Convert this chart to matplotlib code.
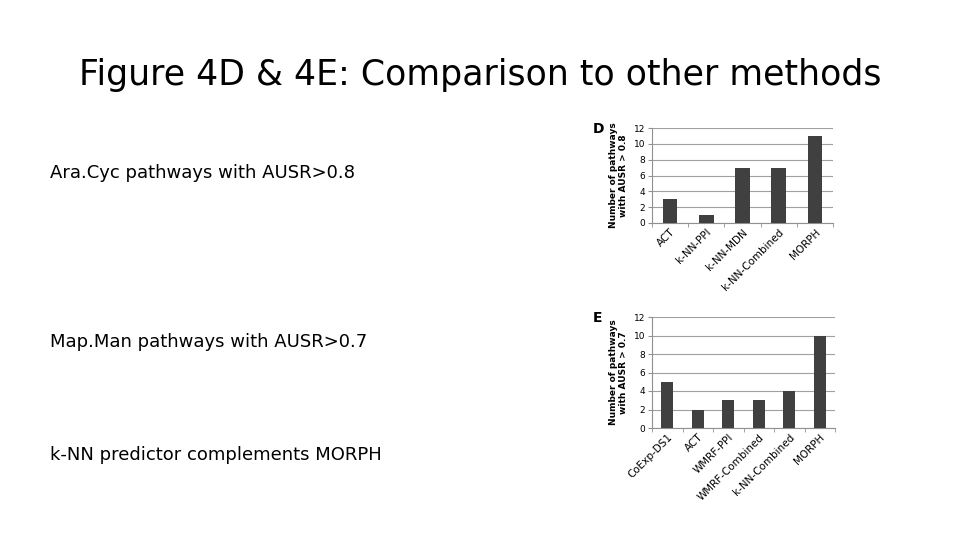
import numpy as np
import matplotlib.pyplot as plt

# panel D: AraCyc
cats_d = ['ACT', 'k-NN-PPI', 'k-NN-MDN', 'k-NN-Combined', 'MORPH']
vals_d = [3, 1, 7, 7, 11]
# panel E: MapMan
cats_e = ['CoExp-DS1', 'ACT', 'WMRF-PPI', 'WMRF-Combined', 'k-NN-Combined', 'MORPH']
vals_e = [5, 2, 3, 3, 4, 10]

bullets = ['Ara.Cyc pathways with AUSR>0.8',
           'Map.Man pathways with AUSR>0.7',
           'k-NN predictor complements MORPH']

W, H = 960, 540
fig = plt.figure(figsize=(9.6, 5.4), dpi=100)
fig.patch.set_facecolor('white')

fig.text(480 / W, 1 - 75 / H, 'Figure 4D & 4E: Comparison to other methods',
         ha='center', va='center', fontsize=25, color='black')

for txt, y in zip(bullets, [173, 342, 455]):
    fig.text(50 / W, 1 - y / H, txt, ha='left', va='center', fontsize=13)


def panel(rect, cats, vals, ylabel, letter, letter_y):
    x0, y0, x1, y1 = rect
    ax = fig.add_axes([x0 / W, 1 - y1 / H, (x1 - x0) / W, (y1 - y0) / H])
    x = np.arange(len(cats))
    ax.bar(x, vals, width=0.4, color='#404040', zorder=3)
    ax.set_xlim(-0.5, len(cats) - 0.5)
    ax.set_ylim(0, 12)
    ax.set_yticks(range(0, 13, 2))
    ax.yaxis.grid(True, color='#a0a0a0', lw=0.8, zorder=0)
    ax.set_xticks(x)
    ax.set_xticklabels(cats, rotation=45, ha='right', rotation_mode='anchor', fontsize=7.5)
    ax.set_xticks(np.arange(len(cats) + 1) - 0.5, minor=True)
    ax.tick_params(axis='x', which='major', length=0, pad=3)
    ax.tick_params(axis='x', which='minor', length=3, color='#909090')
    ax.tick_params(axis='y', length=3, color='#909090', labelsize=6.5, pad=2)
    for s in ['top', 'right']:
        ax.spines[s].set_visible(False)
    for s in ['left', 'bottom']:
        ax.spines[s].set_color('#909090')
    ax.set_ylabel(ylabel, fontsize=6.5, fontweight='bold', labelpad=4, linespacing=1.1)
    fig.text(598 / W, 1 - letter_y / H, letter, fontsize=10, fontweight='bold',
             ha='center', va='center')
    return ax


panel((652, 128, 833, 223), cats_d, vals_d,
      'Number of pathways\nwith AUSR > 0.8', 'D', 129)
panel((652, 317, 835, 428), cats_e, vals_e,
      'Number of pathways\nwith AUSR > 0.7', 'E', 318)

fig.savefig('out.png', dpi=100)
